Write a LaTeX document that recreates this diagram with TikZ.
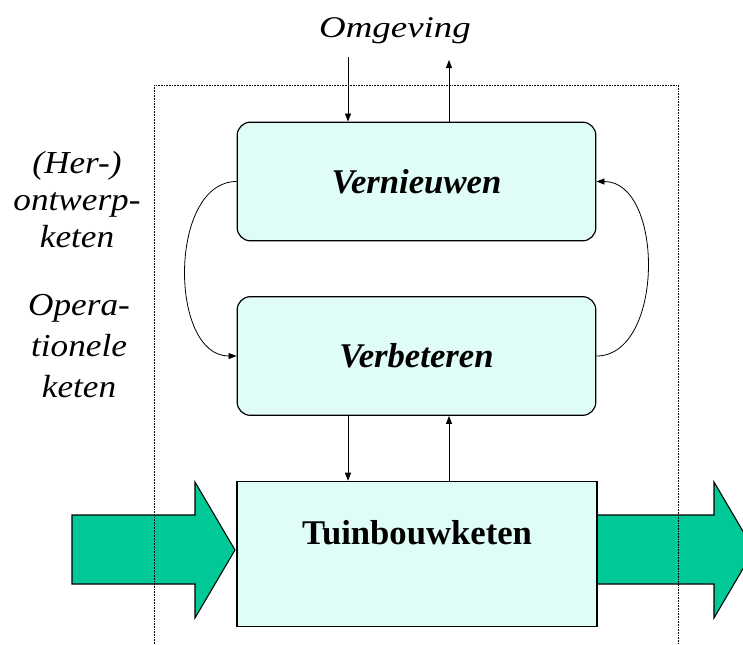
\documentclass[tikz,border=0pt]{standalone}
\usepackage{fontspec}
\setmainfont{Liberation Serif}
\usetikzlibrary{arrows.meta, positioning, calc}

\definecolor{boxcyan}{RGB}{224,252,247}
\definecolor{flowgreen}{RGB}{0,201,151}

\begin{document}
\begin{tikzpicture}[
    x=0.75pt, y=-0.75pt,
    stap/.style={rectangle, draw, line width=0.9pt, fill=boxcyan, rounded corners=10pt, minimum width=269pt, minimum height=89pt, font=\fontsize{26}{30}\selectfont\bfseries\itshape},
    keten/.style={rectangle, draw, line width=0.9pt, fill=boxcyan, minimum width=270pt, minimum height=109pt},
    zijtekst/.style={align=center, font=\fontsize{24}{27.75}\selectfont\itshape, xscale=1.1, transform shape},
    pijl/.style={line width=0.6pt, -{Triangle[length=6pt,width=4.5pt]}},
    stroom/.style={draw, line width=0.8pt, fill=flowgreen},
    kader/.style={line width=0.6pt, dash pattern=on 0.6pt off 0.6pt}
]
\clip (0,0) rectangle (743,644);

% Flow through the chain
\draw[stroom] (72,515) -- (195,515) -- (195,482) -- (235,550) -- (195,618) -- (195,584) -- (72,584) -- cycle;
\draw[stroom] (597,515) -- (714,515) -- (714,482) -- (754,550) -- (714,618) -- (714,584) -- (597,584) -- cycle;

% System border
\draw[kader] (154,85) rectangle (678,700);

% Boxes
\node[stap] (vern) at (416.5,181.5) {Vernieuwen};
\node[stap] (verb) at (416.5,356) {Verbeteren};
\node[keten] (tuin) at (417,554) {};
\node[font=\fontsize{26}{30}\selectfont\bfseries] (tuintekst) at ($(tuin.center)+(0,-21)$) {Tuinbouwketen};

% Labels
\node[font=\fontsize{22.5}{26}\selectfont\itshape, xscale=1.23, transform shape] (omg) at (395,31) {Omgeving};
\node[zijtekst] (herontwerp) at (77,200) {(Her-)\\ontwerp-\\keten};
\node[zijtekst, font=\fontsize{24}{30.75}\selectfont\itshape] (operationeel) at (79,346) {Opera-\\tionele\\keten};

% Arrows
\coordinate (inwaarts) at (348,57);
\coordinate (uitwaarts) at (449,60);
\draw[pijl] (inwaarts) -- (inwaarts |- vern.north);
\draw[pijl] (uitwaarts |- vern.north) -- (uitwaarts);
\draw[pijl] (inwaarts |- verb.south) -- (inwaarts |- tuin.north);
\draw[pijl] (uitwaarts |- tuin.north) -- (uitwaarts |- verb.south);
\draw[pijl] (vern.west) to[out=180, in=180] (verb.west);
\draw[pijl] (verb.east) to[out=0, in=0] (vern.east);

\end{tikzpicture}
\end{document}
